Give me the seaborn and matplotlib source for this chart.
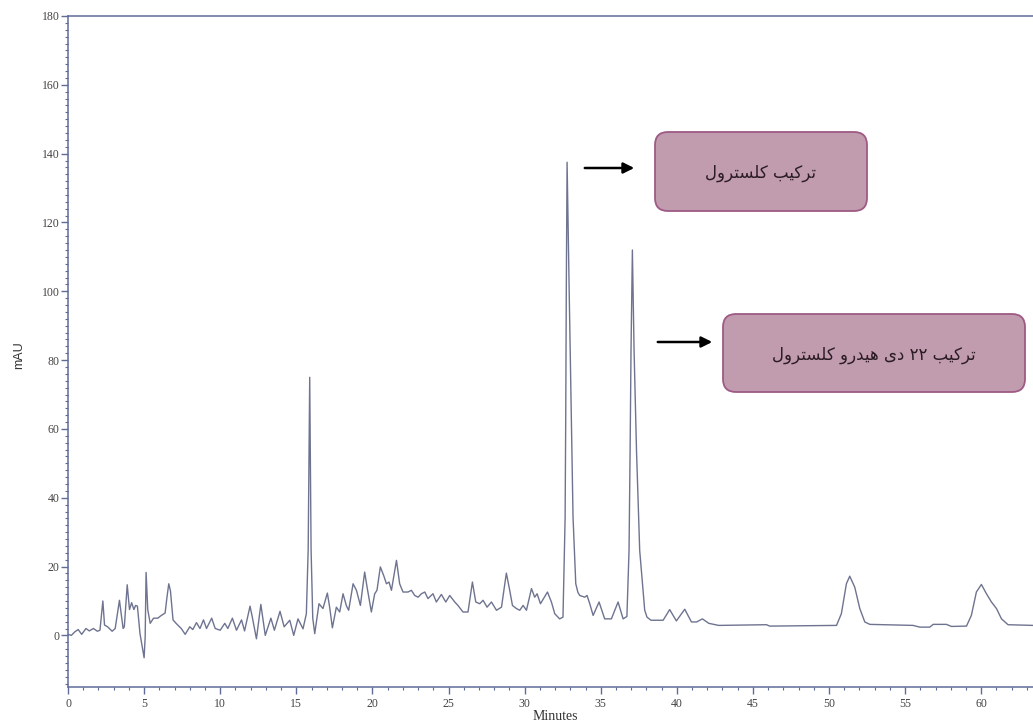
import matplotlib
matplotlib.use("Agg")
import matplotlib.pyplot as plt
from matplotlib.patches import FancyBboxPatch
from matplotlib.ticker import MultipleLocator
import numpy as np
import pandas as pd
import seaborn as sns

# chromatogram trace (minutes, mAU)
minutes = [0.0, 0.22, 0.44, 0.67, 0.9, 1.18, 1.4, 1.67, 1.93, 2.1, 2.29, 2.4, 2.6, 2.9, 3.1,
           3.38, 3.62, 3.7, 3.89, 4.04, 4.18, 4.33, 4.44, 4.56, 4.73, 4.89, 5.0, 5.07, 5.13,
           5.24, 5.4, 5.62, 5.9, 6.1, 6.38, 6.5, 6.62, 6.73, 6.9, 7.1, 7.44, 7.7, 8.0, 8.2,
           8.44, 8.67, 8.9, 9.1, 9.44, 9.67, 10.0, 10.3, 10.5, 10.8, 11.07, 11.4, 11.6, 11.96,
           12.1, 12.38, 12.67, 12.96, 13.33, 13.56, 13.93, 14.2, 14.57, 14.83, 15.11, 15.44,
           15.66, 15.78, 15.88, 15.97, 16.08, 16.21, 16.49, 16.75, 17.04, 17.19, 17.37, 17.63,
           17.85, 18.07, 18.29, 18.44, 18.73, 18.95, 19.21, 19.49, 19.65, 19.93, 20.15, 20.3,
           20.52, 20.74, 20.92, 21.09, 21.25, 21.58, 21.79, 22.01, 22.34, 22.56, 22.78, 23.0,
           23.22, 23.44, 23.65, 23.98, 24.2, 24.53, 24.82, 25.08, 25.41, 25.62, 25.95, 26.28,
           26.57, 26.79, 27.05, 27.27, 27.53, 27.82, 28.15, 28.48, 28.8, 29.02, 29.2, 29.46,
           29.68, 29.9, 30.12, 30.45, 30.66, 30.82, 31.04, 31.5, 31.76, 31.98, 32.3, 32.52,
           32.66, 32.7, 32.74, 32.79, 32.92, 33.07, 33.18, 33.36, 33.5, 33.62, 33.95, 34.1,
           34.28, 34.5, 34.89, 35.26, 35.7, 36.14, 36.47, 36.72, 36.86, 36.93, 36.99, 37.08,
           37.19, 37.35, 37.56, 37.89, 38.04, 38.3, 39.1, 39.53, 39.97, 40.52, 40.96, 41.3,
           41.68, 42.1, 42.75, 45.89, 46.1, 50.49, 50.81, 51.14, 51.36, 51.69, 52.02, 52.35,
           52.68, 55.52, 55.96, 56.62, 56.84, 57.71, 58.04, 59.03, 59.35, 59.68, 60.01, 60.34,
           60.67, 61.0, 61.33, 61.76, 63.4]
mau = [0.3, 0.0, 1.0, 1.7, 0.3, 2.0, 1.3, 2.0, 1.2, 1.5, 10.0, 3.0, 2.5, 1.2, 2.0,
       10.2, 2.0, 2.5, 14.7, 7.5, 9.5, 7.5, 8.7, 8.5, 0.5, -3.7, -6.5, -0.5, 18.3,
       7.5, 3.5, 5.0, 5.0, 5.7, 6.5, 11.0, 15.0, 13.0, 4.5, 3.5, 2.0, 0.3, 2.5, 1.7,
       3.7, 2.0, 4.5, 2.0, 5.0, 2.0, 1.5, 3.5, 2.0, 5.0, 1.5, 4.5, 1.3, 8.5,
       5.5, -1.0, 9.0, 0.0, 5.0, 1.5, 7.0, 2.5, 4.4, 0.0, 4.8, 1.9,
       6.3, 25.0, 75.0, 25.0, 5.0, 0.5, 9.2, 7.8, 12.3, 8.2, 2.2, 8.2,
       6.8, 12.1, 8.6, 7.3, 15.0, 13.1, 8.7, 18.4, 14.0, 6.8, 12.1, 13.1,
       19.9, 17.4, 15.0, 15.5, 13.1, 21.8, 15.0, 12.6, 12.6, 13.1, 11.6, 11.1,
       12.1, 12.6, 10.7, 12.1, 9.7, 11.9, 9.7, 11.6, 9.7, 8.7, 6.8, 6.8,
       15.5, 9.7, 9.2, 10.2, 8.2, 9.7, 7.3, 8.2, 18.1, 13.1, 8.7, 7.8,
       7.3, 8.7, 7.3, 13.6, 11.1, 12.1, 9.2, 12.6, 9.7, 6.3, 4.8, 5.3,
       34.0, 63.0, 102.0, 137.5, 102.0, 63.5, 34.4, 15.0, 12.5, 11.6, 11.1, 11.6,
       9.2, 5.8, 9.7, 4.8, 4.8, 9.7, 4.8, 5.5, 24.7, 53.8, 82.9, 112.0,
       82.9, 53.8, 24.7, 7.3, 5.3, 4.4, 4.4, 7.5, 4.2, 7.6, 3.9, 3.9,
       4.8, 3.5, 2.9, 3.1, 2.7, 2.9, 6.3, 15.0, 17.2, 14.0, 7.8, 3.9,
       3.2, 2.9, 2.4, 2.4, 3.2, 3.2, 2.6, 2.7, 5.8, 12.6, 14.8, 12.1,
       9.7, 7.8, 4.8, 3.1, 2.9]

x_ticks = list(range(0, 61, 5))
y_ticks = list(range(0, 181, 20))

# persian labels, written in visual (left-to-right) order with presentation forms
label_cholesterol = "\uFEDD\uFEED\uFEAE\uFE98\uFEB4\uFEE0\uFB90 \uFE90\uFBFF\uFB90\uFEAE\uFE97"
label_dihydro = ("\uFEDD\uFEED\uFEAE\uFE98\uFEB4\uFEE0\uFB90 \uFEED\uFEAD\uFEAA\uFBFF\uFEEB "
                 "\uFBFC\uFEA9 \u06F2\u06F2 \uFE90\uFBFF\uFB90\uFEAE\uFE97")

df = pd.DataFrame({"Minutes": minutes, "mAU": mau})

sns.set_style("ticks")
plt.rcParams["font.family"] = ["DejaVu Sans"]

axis_col = "#5f6c9a"
fig = plt.figure(figsize=(10.33, 7.25), dpi=100)
ax = fig.add_axes([68 / 1033, 1 - 687 / 725, 1 - 68 / 1033, (687 - 16) / 725])

sns.lineplot(data=df, x="Minutes", y="mAU", ax=ax, color="#6e7390", linewidth=1.0)

ax.set_xlim(0, 63.4)
ax.set_ylim(-15, 180)
ax.set_xticks(x_ticks)
ax.set_yticks(y_ticks)
ax.xaxis.set_minor_locator(MultipleLocator(1))
ax.yaxis.set_minor_locator(MultipleLocator(2))
ax.tick_params(which="major", direction="out", length=5, width=1, color=axis_col,
               labelsize=8.5, labelcolor="#444444", pad=3)
ax.tick_params(which="minor", direction="out", length=2.5, width=0.8, color=axis_col)
for lab in ax.get_xticklabels() + ax.get_yticklabels():
    lab.set_family("Liberation Serif")
ax.tick_params(axis="y", pad=1)

for side in ["left", "bottom", "top"]:
    ax.spines[side].set_color(axis_col)
    ax.spines[side].set_linewidth(1.1)
ax.spines["right"].set_visible(False)

ax.set_xlabel("")
ax.set_ylabel("")
fig.text(555 / 1033, 1 - 717 / 725, "Minutes", ha="center", va="center",
         family="Liberation Serif", fontsize=10, color="#333333")
fig.text(19 / 1033, 1 - 355 / 725, "mAU", ha="center", va="center", rotation=90,
         family="Liberation Sans", fontsize=9, color="#333333")

# annotation boxes (inches from bottom-left)
boxes = [
    (6.55, 5.14, 2.12, 0.79, label_cholesterol),
    (7.23, 3.33, 3.02, 0.78, label_dihydro),
]
for bx, by, bw, bh, txt in boxes:
    patch = FancyBboxPatch((bx, by), bw, bh, boxstyle="round,pad=0,rounding_size=0.13",
                           transform=fig.dpi_scale_trans, facecolor="#c19bae",
                           edgecolor="#9e5a84", linewidth=1.3, clip_on=False)
    fig.add_artist(patch)
    fig.text((bx + bw / 2) / 10.33, (by + bh / 2 - 0.02) / 7.25, txt, ha="center",
             va="center", fontsize=12, color="#2b1c24", family=["DejaVu Sans"])

arrows = [((582, 725 - 168), (637, 725 - 168)), ((655, 725 - 342), (715, 725 - 342))]
for start, end in arrows:
    ax.annotate("", xy=end, xytext=start, xycoords="figure pixels",
                textcoords="figure pixels",
                arrowprops=dict(arrowstyle="-|>", color="black", lw=1.8, mutation_scale=16))

fig.savefig("out.png", dpi=100)
